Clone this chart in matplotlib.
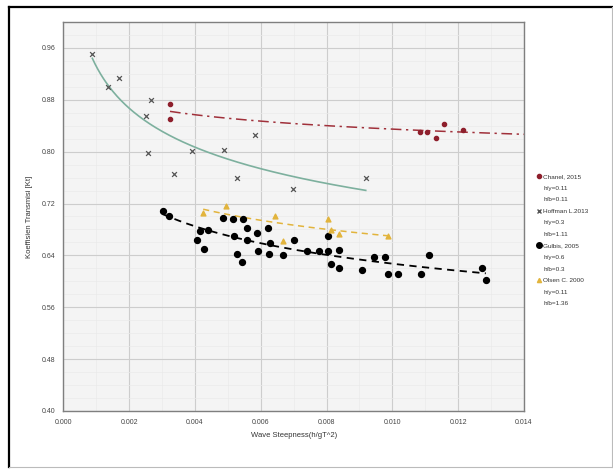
import matplotlib
matplotlib.use("Agg")
import matplotlib.pyplot as plt
import numpy as np
from matplotlib.lines import Line2D

plt.rcParams["font.family"] = ["Liberation Sans", "DejaVu Sans"]

# --- data ---
chanel_x = [0.00324, 0.00324, 0.01084, 0.01105, 0.01133, 0.01157, 0.01215]
chanel_y = [0.874, 0.851, 0.830, 0.830, 0.821, 0.843, 0.834]

hoffman_x = [0.00088, 0.00137, 0.00170, 0.00251, 0.00258, 0.00265, 0.00337,
             0.00390, 0.00489, 0.00527, 0.00582, 0.00699, 0.00919]
hoffman_y = [0.951, 0.899, 0.914, 0.855, 0.798, 0.879, 0.765,
             0.801, 0.803, 0.759, 0.826, 0.742, 0.759]

gulbis_x = [0.00302, 0.00322, 0.00407, 0.00415, 0.00427, 0.00441, 0.00486, 0.00515,
            0.00519, 0.00529, 0.00542, 0.00545, 0.00557, 0.00559, 0.00588, 0.00593,
            0.00621, 0.00626, 0.00628, 0.00667, 0.00701, 0.00740, 0.00778, 0.00805,
            0.00805, 0.00813, 0.00837, 0.00838, 0.00909, 0.00944, 0.00977, 0.00986,
            0.01016, 0.01087, 0.01111, 0.01272, 0.01284]
gulbis_y = [0.709, 0.701, 0.663, 0.678, 0.650, 0.679, 0.698, 0.696,
            0.670, 0.642, 0.630, 0.696, 0.663, 0.683, 0.675, 0.646,
            0.683, 0.642, 0.659, 0.640, 0.663, 0.646, 0.646, 0.646,
            0.670, 0.627, 0.620, 0.648, 0.618, 0.637, 0.637, 0.611,
            0.611, 0.611, 0.641, 0.620, 0.602]

olsen_x = [0.00425, 0.00494, 0.00643, 0.00668, 0.00805, 0.00813, 0.00838, 0.00988]
olsen_y = [0.706, 0.716, 0.701, 0.662, 0.696, 0.679, 0.673, 0.670]

legend_names = ["Chanel, 2015", "Hoffman L.2013", "Gulbis, 2005", "Olsen C. 2000"]
legend_hy = ["h/y=0.11", "h/y=0.3", "h/y=0.6", "h/y=0.11"]
legend_hb = ["h/b=0.11", "h/b=1.11", "h/b=0.3", "h/b=1.36"]

x_ticks = [0.000, 0.002, 0.004, 0.006, 0.008, 0.010, 0.012, 0.014]
y_ticks = [0.40, 0.48, 0.56, 0.64, 0.72, 0.80, 0.88, 0.96]


def power_fit(x, y, x_end=None):
    # Excel-style power trendline: ln y = ln a + b ln x
    x = np.asarray(x)
    b, ln_a = np.polyfit(np.log(x), np.log(y), 1)
    xs = np.linspace(x.min(), x.max() if x_end is None else x_end, 200)
    return xs, np.exp(ln_a) * xs ** b


fig = plt.figure(figsize=(6.13, 4.69), dpi=100)
ax = fig.add_axes([0.1034, 0.1237, 0.7514, 0.8294])
ax.set_facecolor("#F4F4F4")

red, green, gold = "#8E1F2C", "#7DB09E", "#E2B43C"

xs, ys = power_fit(chanel_x, chanel_y, x_end=0.014)
ax.plot(xs, ys, color="#A0303A", lw=1.1, dashes=(7, 3, 1.5, 3), zorder=3)
xs, ys = power_fit(hoffman_x, hoffman_y)
ax.plot(xs, ys, color=green, lw=1.2, zorder=3)
xs, ys = power_fit(gulbis_x, gulbis_y)
ax.plot(xs, ys, color="black", lw=1.3, dashes=(4, 3), zorder=3)
xs, ys = power_fit(olsen_x, olsen_y)
ax.plot(xs, ys, color=gold, lw=1.1, dashes=(4, 3), zorder=3)

ax.scatter(chanel_x, chanel_y, s=9, color=red, zorder=4)
ax.scatter(hoffman_x, hoffman_y, s=12, marker="x", color="#555555", lw=0.9, zorder=4)
ax.scatter(gulbis_x, gulbis_y, s=18, color="black", zorder=4)
ax.scatter(olsen_x, olsen_y, s=12, marker="^", color=gold, zorder=4)

ax.set_xlim(0, 0.014)
ax.set_ylim(0.40, 1.00)
ax.set_xticks(x_ticks)
ax.set_yticks(y_ticks)
ax.set_xticklabels([f"{v:.3f}" for v in x_ticks], fontsize=5, color="#444444")
ax.set_yticklabels([f"{v:.2f}" for v in y_ticks], fontsize=5, color="#444444")
ax.set_xticks(np.arange(0, 0.0141, 0.001), minor=True)
ax.set_yticks(np.arange(0.40, 1.001, 0.02), minor=True)
ax.tick_params(which="both", length=0, pad=6)
ax.grid(which="minor", color="#EAEAEA", lw=0.5)
ax.grid(which="major", color="#CDCDCD", lw=0.8)
ax.set_axisbelow(True)
for s in ax.spines.values():
    s.set_color("#7F7F7F")
    s.set_linewidth(1.0)

ax.set_xlabel("Wave Steepness(h/gT^2)", fontsize=5.5, color="#333333", labelpad=4)
ax.set_ylabel("Koeffisien Transmisi [Kt]", fontsize=5.5, color="#333333", labelpad=6)

# legend: marker on the first line of each 3-line entry
blank = Line2D([], [], linestyle="none", marker=None)
handles = [
    Line2D([], [], linestyle="none", marker="o", ms=3, color=red),
    Line2D([], [], linestyle="none", marker="x", ms=3, color="#555555"),
    Line2D([], [], linestyle="none", marker="o", ms=4, color="black"),
    Line2D([], [], linestyle="none", marker="^", ms=3, color=gold),
]
leg_h, leg_l = [], []
for h, name, hy, hb in zip(handles, legend_names, legend_hy, legend_hb):
    leg_h += [h, blank, blank]
    leg_l += [name, hy, hb]
fig.legend(leg_h, leg_l, loc="upper left", bbox_to_anchor=(0.872, 0.635),
           frameon=False, fontsize=4.6, handlelength=0.6, handletextpad=0.4,
           labelspacing=0.95, borderaxespad=0, labelcolor="#333333")

# outer chart frame
fig.add_artist(Line2D([0.0147, 0.0147], [0.004, 0.985], color="black", lw=1.6))
fig.add_artist(Line2D([0.0147, 0.998], [0.985, 0.985], color="black", lw=1.6))
fig.add_artist(Line2D([0.998, 0.998], [0.004, 0.985], color="#BBBBBB", lw=0.8))
fig.add_artist(Line2D([0.0147, 0.998], [0.004, 0.004], color="#BBBBBB", lw=0.8))

fig.savefig("out.png", dpi=100)
